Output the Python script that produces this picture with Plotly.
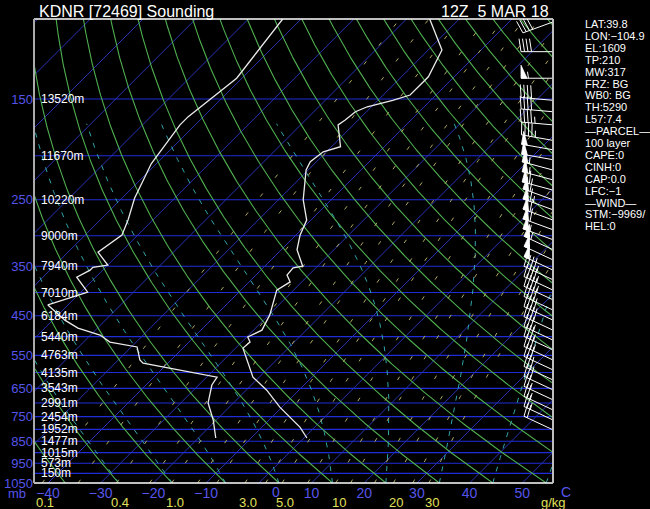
import numpy as np
import plotly.graph_objects as go

# ---------------- data ----------------
temp_p = [836, 791, 715, 656, 614, 530, 514, 501, 484, 448, 395, 379, 366, 353, 350,
          322, 299, 277, 250, 215, 206, 196, 191, 171, 167, 160, 156, 151, 147, 140,
          134, 117, 100]
temp_c = [0.6, -2.8, -10.4, -16.1, -21.2, -28.6, -28.4, -29.8, -28.4, -29.8, -33.2,
          -32.2, -34.1, -34.3, -32.8, -37.0, -39.2, -40.8, -45.3, -50.4, -51.2, -50.6,
          -48.3, -52.9, -52.5, -52.1, -50.8, -47.2, -44.9, -44.9, -44.9, -47.4, -55.6]

dwpt_p = [836, 763, 700, 639, 614, 572, 563, 527, 514, 496, 479, 460, 426, 399, 370,
          357, 352, 348, 326, 299, 277, 248, 208, 191, 171, 164, 135, 100]
dwpt_c = [-16.7, -20.6, -24.8, -27.5, -28.0, -44.7, -45.9, -48.9, -55.0, -58.2, -63.7,
          -67.7, -73.8, -68.7, -73.6, -72.4, -72.4, -70.0, -74.3, -73.0, -74.7, -77.6,
          -81.0, -81.9, -82.9, -82.9, -81.0, -83.5]

height_p = [150, 200, 250, 300, 350, 400, 450, 500, 550, 600, 650, 700, 750, 800,
            850, 900, 950, 1000]
height_lbl = ["13520m", "11670m", "10220m", "9000m", "7940m", "7010m", "6184m",
              "5440m", "4763m", "4135m", "3543m", "2991m", "2454m", "1952m", "1477m",
              "1015m", "573m", "150m"]

press_lbl_p = [150, 250, 350, 450, 550, 650, 750, 850, 950, 1050]
temp_ticks = [-40, -30, -20, -10, 0, 10, 20, 30, 40, 50]
mix_lbl_vals = [0.1, 0.4, 1.0, 3.0, 5.0, 10, 20, 30]
mix_lbl_txt = ["0.1", "0.4", "1.0", "3.0", "5.0", "10", "20", "30"]

mix_lines = [0.1, 0.2, 0.4, 0.7, 1.0, 1.5, 2, 3, 4, 5, 7, 10, 12, 16, 20, 25, 30]
theta_c_lines = list(range(-50, 210, 10))      # potential temperature, deg C
moist_c_lines = list(range(-30, 60, 10))       # same start points at the bottom
isotherms = list(range(-130, 60, 10))

barb_p = [101.5, 118, 135, 151, 160, 171, 185, 194, 204, 215, 226, 238, 250, 263, 277,
          291, 306, 322, 339, 357, 375, 395, 415, 437, 460, 484, 509, 535, 563, 592,
          623, 655, 689, 725, 763, 802]
barb_dir = [250, 270, 270, 275, 275, 275, 280, 280, 280, 285, 285, 285, 290, 290, 290,
            290, 290, 295, 295, 295, 295, 295, 295, 295, 295, 295, 295, 295, 295, 295,
            295, 295, 295, 295, 295, 295]
barb_kt = [40, 40, 55, 40, 40, 45, 45, 50, 50, 55, 55, 60, 60, 65, 60, 60, 55, 55, 50,
           50, 45, 45, 45, 40, 40, 40, 35, 35, 35, 30, 30, 30, 25, 25, 25, 20]

info_lines = ["LAT:39.8", "LON:\u2212104.9", "EL:1609", "TP:210", "MW:317", "FRZ: BG",
              "WB0: BG", "TH:5290", "L57:7.4", "\u2014PARCEL\u2014", "100 layer",
              "CAPE:0", "CINH:0", "CAP:0.0", "LFC:\u22121", "\u2014WIND\u2014",
              "STM:\u22129969/", "HEL:0"]

# ---------------- geometry helpers ----------------
P_BOT, P_TOP = 1050.0, 100.0
PX_PER_C = 5.27             # horizontal pixels per degree
PX_PER_LNP = 197.3          # vertical pixels per ln(p)
SKEW = PX_PER_LNP / PX_PER_C  # 45 degree isotherms
X_LEFT = (34 - 258.8) / PX_PER_C
X_RIGHT = (553 - 258.8) / PX_PER_C
KAPPA = 0.2857


def skx(t, p):
    return np.asarray(t, float) + SKEW * np.log(P_BOT / np.asarray(p, float))


pgrid = np.exp(np.linspace(np.log(P_BOT), np.log(P_TOP), 200))

BLUE_ISO = "rgb(40,50,180)"
BLUE_BAR = "rgb(32,44,215)"
GREEN = "rgb(80,175,80)"
CYAN = "rgb(50,165,170)"
YELLOW = "rgb(175,170,95)"
LBL_BLUE = "rgb(85,85,235)"
LBL_YEL = "rgb(225,225,90)"
FONT = "Liberation Sans"


def add_family(fig, xs_list, color, width=1, dash=None):
    xs, ys = [], []
    for x, y in xs_list:
        xs += list(x) + [None]
        ys += list(y) + [None]
    fig.add_trace(go.Scatter(x=xs, y=ys, mode="lines", hoverinfo="skip",
                             line=dict(color=color, width=width, dash=dash),
                             showlegend=False))


fig = go.Figure()

# isobars
iso_p = list(range(150, 1001, 50))
add_family(fig, [(np.array([X_LEFT, X_RIGHT]), np.array([p, p])) for p in iso_p],
           BLUE_BAR, 1.1)

# isotherms
add_family(fig, [(skx(np.full(2, t), [P_BOT, P_TOP]), [P_BOT, P_TOP]) for t in isotherms],
           BLUE_ISO, 1)

# dry adiabats
dry = []
for th in theta_c_lines:
    t = (th + 273.15) * (pgrid / 1000.0) ** KAPPA - 273.15
    dry.append((skx(t, pgrid), pgrid))
add_family(fig, dry, GREEN, 1.1)

# moist adiabats (start where the dry adiabats meet the bottom)
Rd, cp, Lv, eps = 287.04, 1005.7, 2.501e6, 0.622


def es(tk):
    return 6.112 * np.exp(17.67 * (tk - 273.15) / (tk - 29.65))


def dtdp(tk, p):
    rs = eps * es(tk) / (p - es(tk))
    return (Rd * tk + Lv * rs) / (cp + Lv * Lv * rs * eps / (Rd * tk * tk)) / p


def moist(th_c, p_end=170.0):
    p = P_BOT
    tk = (th_c + 273.15) * (P_BOT / 1000.0) ** KAPPA
    ps, ts = [p], [tk]
    h = -2.0
    while p + h >= p_end:
        k1 = dtdp(tk, p)
        k2 = dtdp(tk + h * k1 / 2, p + h / 2)
        k3 = dtdp(tk + h * k2 / 2, p + h / 2)
        k4 = dtdp(tk + h * k3, p + h)
        tk += h * (k1 + 2 * k2 + 2 * k3 + k4) / 6
        p += h
        ps.append(p)
        ts.append(tk)
    pp = np.array(ps)
    return skx(np.array(ts) - 273.15, pp), pp


add_family(fig, [moist(t0) for t0 in moist_c_lines], CYAN, 1, "5px,7px")


# mixing ratio lines
def td_from_w(w, p):
    e = w * p / (622.0 + w)
    a = np.log(e / 6.112)
    return 243.5 * a / (17.67 - a)


mixp = np.exp(np.linspace(np.log(P_BOT), np.log(P_TOP), 60))
add_family(fig, [(skx(td_from_w(w, mixp), mixp), mixp) for w in mix_lines],
           YELLOW, 1, "4px,20px")

# sounding
fig.add_trace(go.Scatter(x=skx(dwpt_c, dwpt_p), y=dwpt_p, mode="lines",
                         line=dict(color="rgb(235,235,235)", width=1.3),
                         hoverinfo="skip", showlegend=False))
fig.add_trace(go.Scatter(x=skx(temp_c, temp_p), y=temp_p, mode="lines",
                         line=dict(color="rgb(235,235,235)", width=1.3),
                         hoverinfo="skip", showlegend=False))

# wind barbs (pixel offsets converted to data units)
STAFF = 32.0
FEATH = 13.0
SPACE = 3.5
bx, by, fx, fy = [], [], [], []


def to_data(x0, p0, dxp, dyp):
    return x0 + dxp / PX_PER_C, p0 * np.exp(-dyp / PX_PER_LNP)


for p, d, s in zip(barb_p, barb_dir, barb_kt):
    x0 = X_RIGHT
    ux, uy = np.sin(np.radians(d)), np.cos(np.radians(d))
    px_, py_ = uy, -ux
    a, b = to_data(x0, p, STAFF * ux, STAFF * uy)
    bx += [x0, a, None]
    by += [p, b, None]
    pos = STAFF
    rem = int(round(s / 5.0)) * 5
    nflag = rem // 50
    rem -= nflag * 50
    nfull = rem // 10
    rem -= nfull * 10
    nhalf = rem // 5
    for _ in range(nflag):
        x1, y1 = pos * ux, pos * uy
        x2, y2 = (pos - 6) * ux, (pos - 6) * uy
        x3, y3 = x1 + FEATH * px_, y1 + FEATH * py_
        pts = [to_data(x0, p, x1, y1), to_data(x0, p, x3, y3), to_data(x0, p, x2, y2),
               to_data(x0, p, x1, y1)]
        fx += [q[0] for q in pts] + [None]
        fy += [q[1] for q in pts] + [None]
        pos -= 7.5
    for _ in range(nfull):
        x1, y1 = pos * ux, pos * uy
        x3, y3 = x1 + 2 * ux + FEATH * px_, y1 + 2 * uy + FEATH * py_
        a1, b1 = to_data(x0, p, x1, y1)
        a2, b2 = to_data(x0, p, x3, y3)
        bx += [a1, a2, None]
        by += [b1, b2, None]
        pos -= SPACE
    for _ in range(nhalf):
        x1, y1 = pos * ux, pos * uy
        x3, y3 = x1 + 1 * ux + FEATH / 2 * px_, y1 + 1 * uy + FEATH / 2 * py_
        a1, b1 = to_data(x0, p, x1, y1)
        a2, b2 = to_data(x0, p, x3, y3)
        bx += [a1, a2, None]
        by += [b1, b2, None]

fig.add_trace(go.Scatter(x=bx, y=by, mode="lines", line=dict(color="white", width=1),
                         hoverinfo="skip", showlegend=False))
fig.add_trace(go.Scatter(x=fx, y=fy, mode="lines", fill="toself", fillcolor="white",
                         line=dict(color="white", width=0.8), hoverinfo="skip",
                         showlegend=False))

# ---------------- annotations ----------------
ann = []
for p, t in zip(height_p, height_lbl):
    ann.append(dict(x=0, xref="paper", xshift=5, y=np.log10(p), yref="y", text=t,
                    showarrow=False, xanchor="left", yanchor="middle",
                    font=dict(family=FONT, size=12, color="white")))
for w, t in zip(mix_lbl_vals, mix_lbl_txt):
    ann.append(dict(x=float(skx(td_from_w(w, P_BOT), P_BOT)), xref="x", xshift=3,
                    y=0, yref="paper", yshift=-19, text=t, showarrow=False,
                    xanchor="center", yanchor="middle",
                    font=dict(family=FONT, size=13, color=LBL_YEL)))
# the "0" temperature label sits a little right of its isotherm in the original
ann.append(dict(x=0, xref="x", xshift=17, y=0, yref="paper", yshift=-9, text="0",
                showarrow=False, xanchor="center", yanchor="middle",
                font=dict(family=FONT, size=14, color=LBL_BLUE)))
ann.append(dict(x=1, xref="paper", xshift=15, y=0, yref="paper", yshift=-19,
                text="g/kg", showarrow=False, xanchor="right", yanchor="middle",
                font=dict(family=FONT, size=13, color=LBL_YEL)))
ann.append(dict(x=1, xref="paper", xshift=13, y=0, yref="paper", yshift=-9,
                text="C", showarrow=False, xanchor="center", yanchor="middle",
                font=dict(family=FONT, size=14, color=LBL_BLUE)))
ann.append(dict(x=0, xref="paper", xshift=-17, y=0, yref="paper", yshift=-10,
                text="mb", showarrow=False, xanchor="center", yanchor="middle",
                font=dict(family=FONT, size=13, color=LBL_BLUE)))
ann.append(dict(x=0, xref="paper", xshift=3, y=1, yref="paper", yshift=8,
                text="KDNR [72469] Sounding", showarrow=False, xanchor="left",
                yanchor="middle", font=dict(family=FONT, size=16, color="white")))
ann.append(dict(x=1, xref="paper", xshift=-2, y=1, yref="paper", yshift=8,
                text="12Z\u00a0\u00a05 MAR 18", showarrow=False, xanchor="right",
                yanchor="middle", font=dict(family=FONT, size=16, color="white")))
for i, t in enumerate(info_lines):
    ann.append(dict(x=1, xref="paper", xshift=30, y=1, yref="paper",
                    yshift=-(5 + 11.9 * i), text=t, showarrow=False, xanchor="left",
                    yanchor="middle", font=dict(family=FONT, size=11, color="white")))

shapes = [
    dict(type="line", xref="paper", yref="paper", x0=0, x1=1, y0=1, y1=1,
         line=dict(color="white", width=1.5)),
    dict(type="line", xref="paper", yref="paper", x0=0, x1=1, y0=0, y1=0,
         line=dict(color="white", width=1.5)),
    dict(type="line", xref="paper", yref="paper", x0=0, x1=0, y0=0, y1=1,
         line=dict(color="rgb(170,170,170)", width=2)),
    dict(type="line", xref="paper", yref="paper", x0=1, x1=1, y0=0, y1=1,
         line=dict(color="rgb(190,190,190)", width=2)),
]

fig.update_layout(
    width=650, height=509,
    margin=dict(l=34, r=97, t=19, b=26, autoexpand=False),
    paper_bgcolor="black", plot_bgcolor="black",
    showlegend=False,
    annotations=ann, shapes=shapes,
    xaxis=dict(range=[X_LEFT, X_RIGHT], showgrid=False, zeroline=False,
               automargin=False,
               tickmode="array", tickvals=temp_ticks,
               ticktext=[("\u2212%d" % -t) if t < 0 else ("" if t == 0 else str(t))
                         for t in temp_ticks],
               ticks="", ticklen=0,
               tickfont=dict(family=FONT, size=14, color=LBL_BLUE)),
    yaxis=dict(type="log", range=[np.log10(P_BOT), np.log10(P_TOP)], zeroline=False,
               automargin=False, showgrid=False,
               tickmode="array", tickvals=press_lbl_p,
               ticktext=[str(p) for p in press_lbl_p], ticks="",
               tickfont=dict(family=FONT, size=13, color=LBL_BLUE)),
)

fig.write_html("out.html", config={"displayModeBar": False},
               post_script="document.body.style.margin='0px';"
                           "document.body.style.background='black';"
                           "document.body.style.overflow='hidden';")
